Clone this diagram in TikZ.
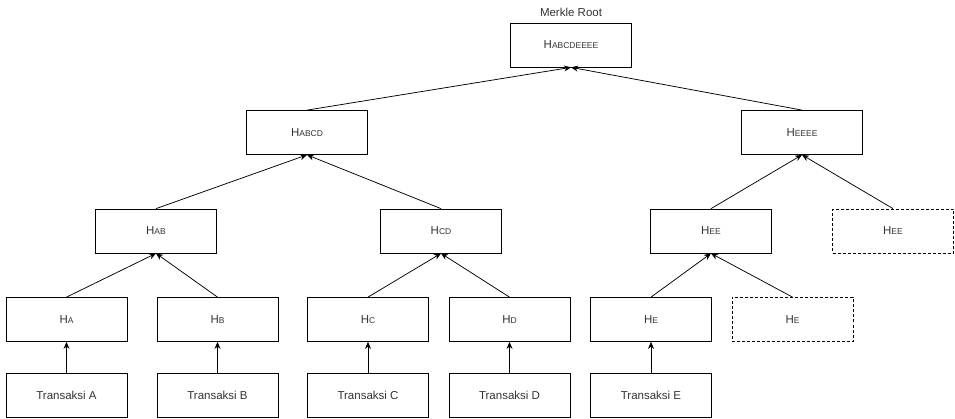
\documentclass[tikz,border=0pt]{standalone}
\usepackage{fontspec}
\setmainfont{Liberation Sans}
\usepackage{xcolor}
\usepackage{tikz}
\usetikzlibrary{arrows.meta, positioning, calc}
\definecolor{testo}{RGB}{51, 51, 51}
% hash con pedice in maiuscoletto
\newcommand{\hval}[1]{H{\fontsize{8.5}{10}\selectfont #1}}

\begin{document}
\begin{tikzpicture}[x=1pt, y=-1pt,
    blocco/.style={draw, line width=0.75pt, minimum width=121pt, minimum height=44pt, inner sep=0pt, text=testo, font=\fontsize{11.5}{13}\selectfont},
    fantasma/.style={blocco, dashed, dash pattern=on 3pt off 2pt},
    freccia/.style={line width=0.75pt, -{Stealth[length=7pt, width=6pt]}}]
    \useasboundingbox (0,0) rectangle (955,419);

    % Radice
    \node[blocco] (hroot) at (571, 45) {\hval{ABCDEEEE}};
    \node[text=testo, font=\fontsize{11.5}{13}\selectfont] (lroot) at (571, 12) {Merkle Root};

    % Livello 1
    \node[blocco] (habcd) at (307, 132.5) {\hval{ABCD}};
    \node[blocco] (heeee) at (802, 132.5) {\hval{EEEE}};

    % Livello 2
    \node[blocco] (hab) at (156, 231) {\hval{AB}};
    \node[blocco] (hcd) at (441, 231) {\hval{CD}};
    \node[blocco] (hee) at (711, 231) {\hval{EE}};
    \node[fantasma] (heedup) at (893, 231) {\hval{EE}};

    % Foglie e transazioni
    \foreach \n/\x in {a/66.5, b/217.5, c/368, d/509.5, e/651} {
        \node[blocco] (h\n) at (\x, 319.5) {\hval{\MakeUppercase{\n}}};
        \node[blocco] (t\n) at (\x, 395.5) {Transaksi \MakeUppercase{\n}};
        \draw[freccia] (t\n.north) -- (h\n.south);
    }
    \node[fantasma] (hedup) at (792.5, 319.5) {\hval{E}};

    % Collegamenti
    \draw[freccia] (ha.north) -- (hab.south);
    \draw[freccia] (hb.north) -- (hab.south);
    \draw[freccia] (hc.north) -- (hcd.south);
    \draw[freccia] (hd.north) -- (hcd.south);
    \draw[freccia] (he.north) -- (hee.south);
    \draw[freccia] (hedup.north) -- (hee.south);
    \draw[freccia] (hab.north) -- (habcd.south);
    \draw[freccia] (hcd.north) -- (habcd.south);
    \draw[freccia] (hee.north) -- (heeee.south);
    \draw[freccia] (heedup.north) -- (heeee.south);
    \draw[freccia] (habcd.north) -- (hroot.south);
    \draw[freccia] (heeee.north) -- (hroot.south);
\end{tikzpicture}
\end{document}
